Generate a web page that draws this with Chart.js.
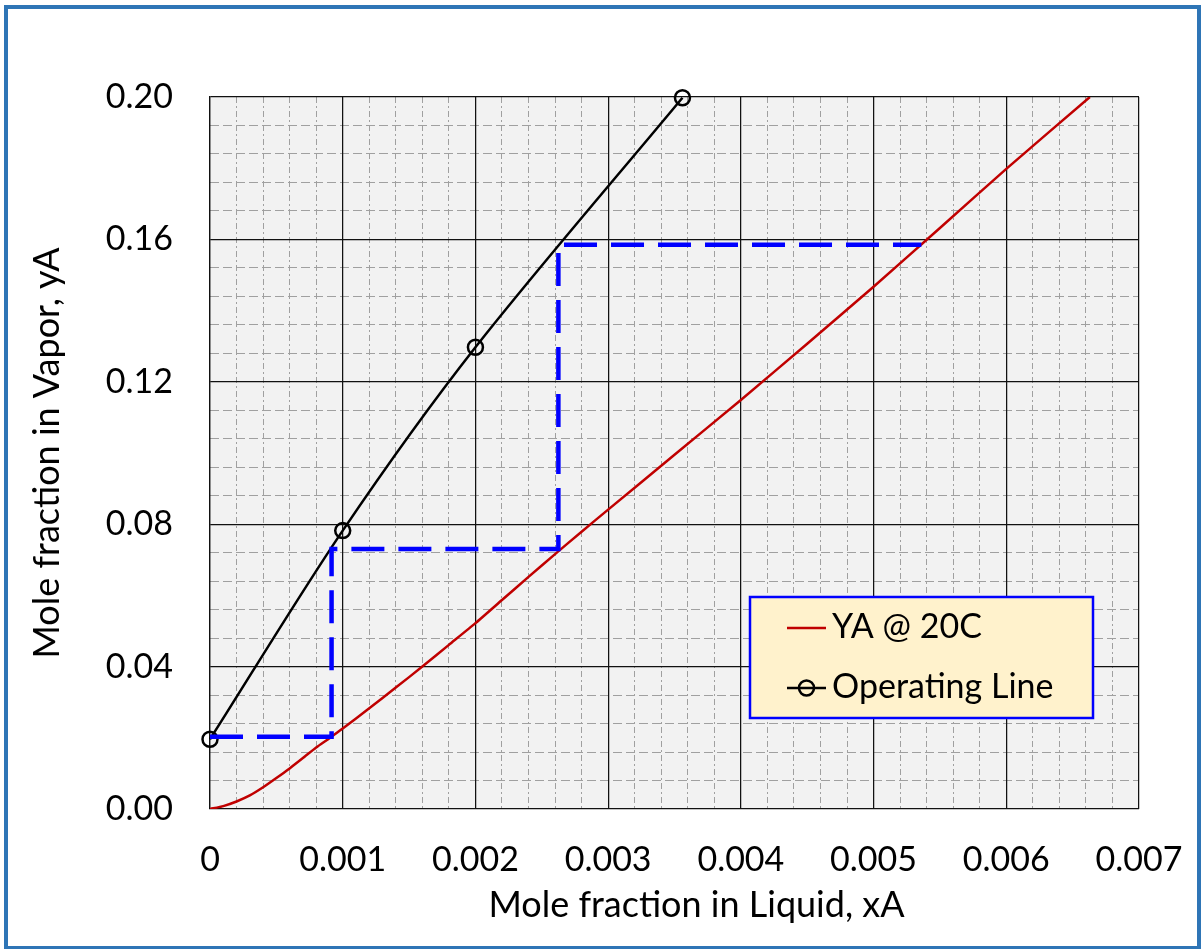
<!DOCTYPE html>
<html><head><meta charset="utf-8">
<script src="https://cdn.jsdelivr.net/npm/chart.js@4.4.1/dist/chart.umd.min.js"></script>
<style>
html,body{margin:0;padding:0;background:#fff;}
#wrap{position:relative;width:1203px;height:949px;overflow:hidden;}
#frame{position:absolute;left:4px;top:5px;width:1189px;height:937px;border:4px solid #2e75b6;pointer-events:none;}
canvas{position:absolute;left:0;top:0;}
</style></head><body>
<div id="wrap"><canvas id="c" width="1203" height="949"></canvas><div id="frame"></div></div>
<script>
// Equilibrium curve: YA @ 20C
const eqX = [0, 0.0001, 0.0002, 0.0003, 0.0004, 0.0005, 0.0006, 0.0007, 0.0008, 0.0009, 0.001, 0.0012, 0.0014, 0.0016, 0.0018, 0.002, 0.0022, 0.0024, 0.0026, 0.0028, 0.003, 0.0035, 0.004, 0.0045, 0.005, 0.0055, 0.006, 0.00663];
const eqY = [0, 0.0008, 0.0021, 0.0038, 0.0061, 0.0087, 0.0114, 0.0143, 0.0173, 0.0199, 0.0226, 0.0283, 0.0341, 0.0400, 0.0461, 0.0522, 0.0587, 0.0652, 0.0716, 0.0779, 0.0841, 0.0995, 0.1149, 0.1307, 0.1467, 0.1632, 0.1798, 0.2000];
// Operating line
const opX = [0, 0.001, 0.002, 0.00356];
const opY = [0.0196, 0.0782, 0.1297, 0.1998];
// Stage-stepping construction (blue dashed)
const stepX = [0, 0.000916, 0.000916, 0.002625, 0.002625, 0.00536];
const stepY = [0.0203, 0.0203, 0.0730, 0.0730, 0.1585, 0.1585];
// Axes
const xMin = 0, xMax = 0.007, xStep = 0.001, xMinorStep = 0.0002;
const yMin = 0, yMax = 0.20, yStep = 0.04, yMinorStep = 0.008;
const seriesLabels = ['YA @ 20C', 'Operating Line'];
const xTitle = 'Mole fraction in Liquid, xA';
const yTitle = 'Mole fraction in Vapor, yA';

const pts = (xs, ys) => xs.map((x, i) => ({x: x, y: ys[i]}));
const FONT = 'Lato';
const X_TITLE_SHIFT = 22;

const plotBg = {
  id: 'plotBg',
  afterLayout(chart) {
    // Excel places the x-axis title slightly right of the plot-area centre
    const s = chart.scales.x;
    s.left += X_TITLE_SHIFT;
    s.right += X_TITLE_SHIFT;
  },
  beforeDraw(chart) {
    const a = chart.chartArea, ctx = chart.ctx;
    ctx.save();
    ctx.fillStyle = '#f2f2f2';
    ctx.fillRect(a.left, a.top, a.right - a.left, a.bottom - a.top);
    ctx.restore();
  }
};

const boxLegend = {
  id: 'boxLegend',
  afterDraw(chart) {
    const ctx = chart.ctx, a = chart.chartArea;
    const x0 = a.left + 540, y0 = a.top + 500, w = 343, h = 121;
    ctx.save();
    ctx.fillStyle = '#fff2cc';
    ctx.fillRect(x0, y0, w, h);
    ctx.strokeStyle = '#0000ff';
    ctx.lineWidth = 2.5;
    ctx.strokeRect(x0, y0, w, h);
    const items = seriesLabels.map(l => chart.data.datasets.find(d => d.label === l));
    items.forEach((ds, i) => {
      const cy = y0 + 31 + i * 60;
      ctx.setLineDash([]);
      ctx.strokeStyle = ds.borderColor;
      ctx.lineWidth = ds.borderWidth;
      ctx.beginPath();
      ctx.moveTo(x0 + 37, cy);
      ctx.lineTo(x0 + 76, cy);
      ctx.stroke();
      if (ds.pointRadius > 0) {
        ctx.lineWidth = ds.pointBorderWidth;
        ctx.beginPath();
        ctx.arc(x0 + 56.5, cy, ds.pointRadius, 0, Math.PI * 2);
        ctx.stroke();
      }
      ctx.fillStyle = '#000';
      ctx.font = '34px ' + FONT;
      ctx.textBaseline = 'alphabetic';
      ctx.textAlign = 'left';
      ctx.fillText(ds.label, x0 + 82, cy + 10);
    });
    ctx.restore();
  }
};

const isMultiple = (v, s) => Math.abs(v / s - Math.round(v / s)) < 1e-6;

new Chart(document.getElementById('c'), {
  type: 'scatter',
  data: {
    datasets: [
      {
        data: pts(stepX, stepY), showLine: true, borderColor: '#0000ff', borderWidth: 4.5,
        borderDash: [33, 14], pointRadius: 0, tension: 0, borderCapStyle: 'butt'
      },
      {
        label: seriesLabels[1], data: pts(opX, opY), showLine: true, borderColor: '#000000',
        borderWidth: 2.5, pointRadius: 7.5, pointBorderWidth: 2.5, pointBorderColor: '#000000',
        pointBackgroundColor: 'rgba(0,0,0,0)', tension: 0.3, clip: false
      },
      {
        label: seriesLabels[0], data: pts(eqX, eqY), showLine: true, borderColor: '#c00000',
        borderWidth: 2.5, pointRadius: 0, tension: 0.2
      }
    ]
  },
  options: {
    responsive: false,
    animation: false,
    events: [],
    layout: {padding: {top: 97, right: 64, bottom: 0, left: 0}},
    plugins: {legend: {display: false}, tooltip: {enabled: false}},
    scales: {
      xMinor: {
        type: 'linear', position: 'bottom', min: xMin, max: xMax,
        ticks: {display: false, stepSize: xMinorStep},
        grid: {drawTicks: false, z: -2, lineWidth: 1,
          color: c => isMultiple(c.tick.value, xStep) ? 'rgba(0,0,0,0)' : '#a0a0a0'},
        border: {display: false, dash: [6, 3, 2, 3]},
        afterFit: s => { s.height = 0; s.paddingLeft = 0; s.paddingRight = 0; }
      },
      yMinor: {
        type: 'linear', position: 'left', min: yMin, max: yMax,
        ticks: {display: false, stepSize: yMinorStep},
        grid: {drawTicks: false, z: -2, lineWidth: 1,
          color: c => isMultiple(c.tick.value, yStep) ? 'rgba(0,0,0,0)' : '#a0a0a0'},
        border: {display: false, dash: [9, 4]},
        afterFit: s => { s.width = 0; }
      },
      x: {
        type: 'linear', position: 'bottom', min: xMin, max: xMax,
        ticks: {stepSize: xStep, padding: 31, color: '#000', font: {family: FONT, size: 34},
          maxRotation: 0, autoSkip: false,
          callback: v => v === 0 ? '0' : v.toFixed(3)},
        grid: {drawTicks: false, color: '#111', lineWidth: 1.25},
        border: {display: false},
        title: {display: true, text: xTitle, color: '#000', font: {family: FONT, size: 36},
          padding: {top: 0, bottom: 22}},
        afterFit: s => { s.height = 140; s.paddingLeft = 0; s.paddingRight = 0; }
      },
      y: {
        type: 'linear', position: 'left', min: yMin, max: yMax,
        ticks: {stepSize: yStep, padding: 37, color: '#000', font: {family: FONT, size: 34},
          autoSkip: false, callback: v => v.toFixed(2)},
        grid: {drawTicks: false, color: '#111', lineWidth: 1.25},
        border: {display: true, color: '#111', width: 1.25},
        title: {display: true, text: yTitle, color: '#000', font: {family: FONT, size: 36},
          padding: {top: 26, bottom: 0}},
        afterFit: s => { s.width = 210; }
      }
    }
  },
  plugins: [plotBg, boxLegend]
});
</script>
</body></html>
